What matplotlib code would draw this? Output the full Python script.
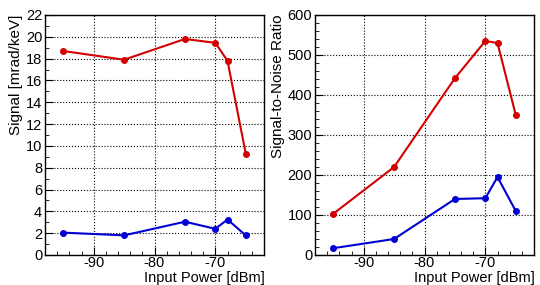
import matplotlib
matplotlib.use("Agg")
import matplotlib.pyplot as plt
from matplotlib.ticker import MultipleLocator

plt.rcParams['font.family'] = ['Liberation Sans', 'DejaVu Sans']
plt.rcParams['axes.unicode_minus'] = False

# input power [dBm]
power = [-95, -85, -75, -70, -68, -65]

# signal [mrad/keV]
signal_red = [18.7, 17.9, 19.8, 19.45, 17.8, 9.3]
signal_blue = [2.05, 1.8, 3.05, 2.4, 3.25, 1.8]

# signal-to-noise ratio
snr_red = [103, 220, 442, 535, 530, 350]
snr_blue = [17, 40, 140, 142, 195, 110]

fig = plt.figure(figsize=(5.4, 2.85), dpi=100)
W, H = 540.0, 285.0
ax1 = fig.add_axes([45 / W, 1 - 255 / H, 219 / W, 240 / H])
ax2 = fig.add_axes([315 / W, 1 - 255 / H, 219 / W, 240 / H])


def style(ax, ymax, ymaj, ymin, ylabel):
    ax.set_xlim(-98, -62)
    ax.set_ylim(0, ymax)
    ax.xaxis.set_major_locator(MultipleLocator(10))
    ax.xaxis.set_minor_locator(MultipleLocator(2))
    ax.yaxis.set_major_locator(MultipleLocator(ymaj))
    ax.yaxis.set_minor_locator(MultipleLocator(ymin))
    ax.tick_params(which='both', direction='in', labelsize=10.5, pad=2)
    ax.tick_params(axis='x', pad=1)
    ax.tick_params(which='major', length=6)
    ax.tick_params(which='minor', length=3)
    ax.grid(True, which='major', linestyle=':', color='black', linewidth=0.8)
    ax.set_xlabel('Input Power [dBm]', fontsize=10.5, ha='right', va='top')
    ax.xaxis.set_label_coords(1.005, -0.066)
    ax.set_ylabel(ylabel, fontsize=11, loc='top', labelpad=2)
    for s in ax.spines.values():
        s.set_linewidth(1.0)


ax1.plot(power, signal_red, color='#d40000', marker='o', markersize=4, linewidth=1.5)
ax1.plot(power, signal_blue, color='#0000d4', marker='o', markersize=4, linewidth=1.5)
style(ax1, 22, 2, 1, 'Signal [mrad/keV]')

ax2.plot(power, snr_red, color='#d40000', marker='o', markersize=4, linewidth=1.5)
ax2.plot(power, snr_blue, color='#0000d4', marker='o', markersize=4, linewidth=1.5)
style(ax2, 600, 100, 20, 'Signal-to-Noise Ratio')

fig.savefig('out.png', dpi=100)
